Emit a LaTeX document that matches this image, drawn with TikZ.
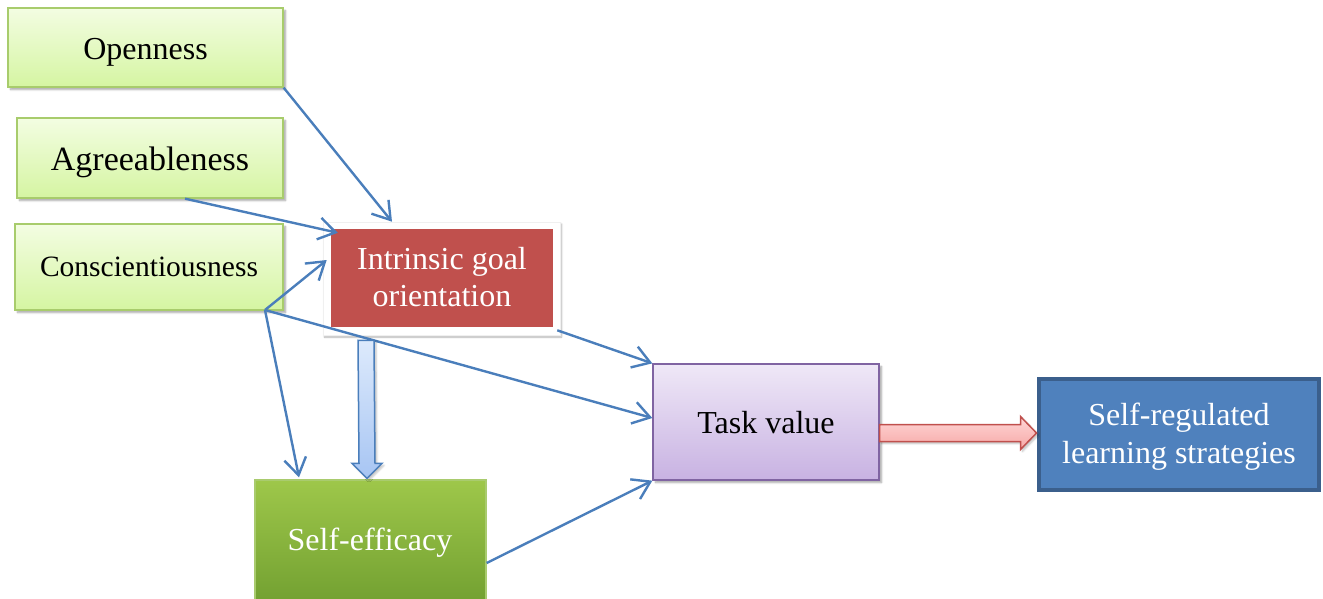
\documentclass[tikz,border=0pt]{standalone}
\usepackage{fontspec}
\setmainfont{Liberation Serif}
\usetikzlibrary{arrows.meta,calc,shadows.blur}

\definecolor{linkblue}{HTML}{4A7EBB}
\definecolor{lgTop}{HTML}{F3FDE2}
\definecolor{lgBot}{HTML}{D5F5A2}
\definecolor{lgEdge}{HTML}{A8CC6C}
\definecolor{dgTop}{HTML}{9EC74A}
\definecolor{dgBot}{HTML}{72A031}
\definecolor{dgEdge}{HTML}{A9CB6E}
\definecolor{redFill}{HTML}{C0504D}
\definecolor{puTop}{HTML}{EFE8F7}
\definecolor{puBot}{HTML}{C8B2E2}
\definecolor{puEdge}{HTML}{8064A2}
\definecolor{srFill}{HTML}{4F81BD}
\definecolor{srEdge}{HTML}{3B5F8C}
\definecolor{baTop}{HTML}{DDEAFC}
\definecolor{baBot}{HTML}{A7C5F3}
\definecolor{raTop}{HTML}{FFD6D6}
\definecolor{raBot}{HTML}{F6A8A6}

\tikzset{
  x=1pt, y=-1pt,
  softshadow/.style={blur shadow={shadow xshift=2.5pt, shadow yshift=-2.5pt,
      shadow blur steps=6, shadow opacity=35}},
  trait/.style={rectangle, inner sep=0pt, line width=1.3pt, draw=lgEdge,
      top color=lgTop, bottom color=lgBot, softshadow,
      font=\fontsize{32}{38}\selectfont},
  link/.style={draw=linkblue, line width=2.4pt,
      -{Straight Barb[length=17pt,width=22pt,line width=2.4pt]}},
  whitetext/.style={text=white, font=\fontsize{32}{38}\selectfont},
  blockshadow/.style={blur shadow={shadow xshift=2pt, shadow yshift=-2pt,
      shadow blur steps=5, shadow opacity=25}},
}

\begin{document}
\begin{tikzpicture}
\useasboundingbox (0,0) rectangle (1323,598);
\clip (0,0) rectangle (1323,598);

% personality traits
\node[trait, minimum width=275pt, minimum height=79pt,
      text height=30.6pt, text depth=7pt] (open) at (145.5,47.5) {Openness};
\node[trait, minimum width=266pt, minimum height=80pt,
      font=\fontsize{34}{40}\selectfont,
      text height=32.4pt, text depth=7pt] (agree) at (150,158) {Agreeableness};
\node[trait, minimum width=268pt, minimum height=86pt,
      font=\fontsize{29.5}{35}\selectfont,
      text height=26.4pt, text depth=7pt] (consc) at (149,267) {Conscientiousness};

% intrinsic goal orientation: white frame around a red panel
\node[rectangle, fill=white, draw=black!6, line width=0.6pt, inner sep=0pt,
      minimum width=237pt, minimum height=113pt,
      blur shadow={shadow xshift=1.5pt, shadow yshift=-2pt,
      shadow blur steps=6, shadow opacity=30}] (igo) at (441.5,278.5) {};
\node[rectangle, fill=redFill, inner sep=0pt, minimum width=222pt,
      minimum height=98pt, whitetext, font=\fontsize{32}{37}\selectfont] (igoin) at (442,278)
      {\begin{tabular}{@{}c@{}}\rule{0pt}{31.9pt}Intrinsic goal\\orientation\end{tabular}};

% self-efficacy
\node[rectangle, inner sep=0pt, line width=1.3pt, draw=dgEdge,
      top color=dgTop, bottom color=dgBot, minimum width=231pt,
      minimum height=124pt] (se) at (370.5,542) {};
\node[whitetext] (setext) at (370,542.5) {Self-efficacy};

% task value
\node[rectangle, inner sep=0pt, line width=1.3pt, draw=puEdge,
      top color=puTop, bottom color=puBot, softshadow,
      minimum width=226pt, minimum height=116pt,
      font=\fontsize{32}{38}\selectfont,
      text height=29.6pt, text depth=7pt] (tv) at (766,422) {Task value};

% self-regulated learning strategies
\node[rectangle, inner sep=0pt, line width=4pt, draw=srEdge, fill=srFill,
      minimum width=280pt, minimum height=111pt, whitetext] (srl) at (1179,434.5)
      {\begin{tabular}{@{}c@{}}\rule{0pt}{31.8pt}Self-regulated\\learning strategies\end{tabular}};

% fan-out point on the lower edge of Conscientiousness
\coordinate (hub) at (265,310);

% thin links
\draw[link] (open.south east) -- ([xshift=-49.5pt]igo.north);
\draw[link] ([xshift=35pt]agree.south) -- ([xshift=7pt,yshift=-4pt]igoin.north west);
\draw[link] (hub) -- ([xshift=4pt,yshift=18.5pt]igo.west);
\draw[link] (hub) -- ([xshift=-71.5pt,yshift=2pt]se.north);
\draw[link] (hub) -- ([yshift=4pt]tv.west);
\draw[link] ([xshift=-3pt,yshift=5pt]igo.south east) -- (tv.north west);
\draw[link] ([yshift=-21pt]se.east) -- (tv.south west);

% block arrow: intrinsic goal orientation -> self-efficacy
\coordinate (btail) at ($(igo.south)+(-75.5,5)$);
\coordinate (bhead) at ($(se.north)+(-3.5,-1)$);
\draw[draw=linkblue, line width=1.5pt, line join=miter, top color=baTop,
      bottom color=baBot, blockshadow]
  ($(btail)+(-8,0)$) -- ($(btail)+(8,0)$) -- ($(bhead)+(8,-15)$)
  -- ($(bhead)+(15,-15)$) -- (bhead) -- ($(bhead)+(-15,-15)$)
  -- ($(bhead)+(-8,-15)$) -- cycle;

% block arrow: task value -> self-regulated learning strategies
\coordinate (rtail) at ($(tv.east)+(0,11)$);
\coordinate (rhead) at ($(srl.west)+(-0.5,-1.5)$);
\draw[draw=redFill, line width=1.5pt, line join=miter, top color=raTop,
      bottom color=raBot, blockshadow]
  ($(rtail)+(0,-8.5)$) -- ($(rhead)+(-16,-8.5)$) -- ($(rhead)+(-16,-16.5)$)
  -- (rhead) -- ($(rhead)+(-16,16.5)$) -- ($(rhead)+(-16,8.5)$)
  -- ($(rtail)+(0,8.5)$) -- cycle;
\end{tikzpicture}
\end{document}
